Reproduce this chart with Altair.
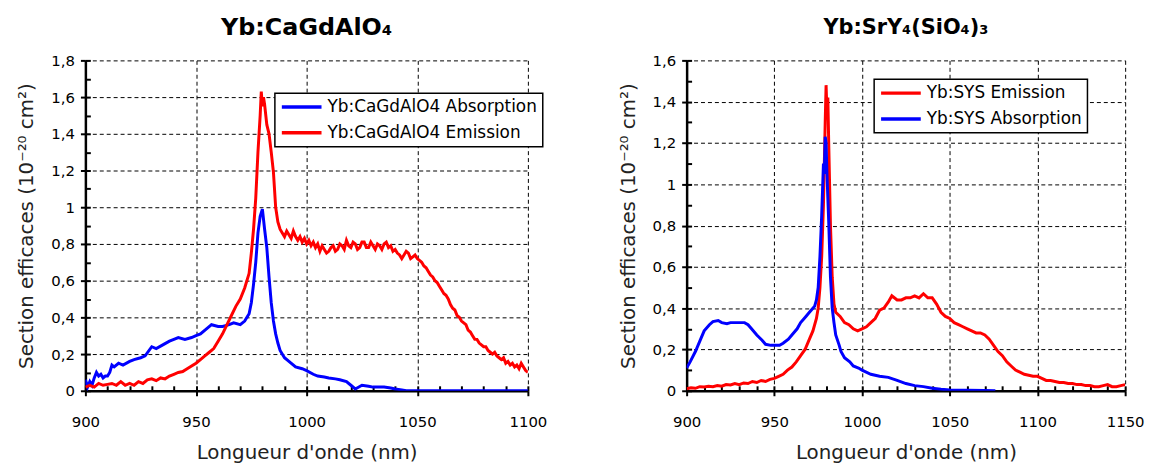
import altair as alt
import pandas as pd

FONT = "DejaVu Sans"

# ---------------- Left panel : Yb:CaGdAlO4 ----------------
cga_abs_wl = [900, 901, 902, 903, 904, 905, 906, 907, 908, 909,
              910, 911, 912, 913, 915, 917, 920, 922, 925, 927,
              930, 932, 935, 938, 940, 942, 945, 948, 950, 952,
              955, 957, 960, 962, 965, 967, 970, 972, 974, 975,
              976, 977, 978, 979, 980, 981, 982, 983, 984, 985,
              986, 987, 988, 990, 992, 995, 998, 1000, 1003, 1005,
              1008, 1010, 1013, 1015, 1018, 1020, 1022, 1025, 1028, 1030,
              1033, 1035, 1038, 1040, 1043, 1045, 1050, 1060, 1070, 1080,
              1090, 1100]
cga_abs_val = [0.06, 0.02, 0.05, 0.03, 0.07, 0.10, 0.08, 0.09, 0.07, 0.08,
               0.08, 0.10, 0.14, 0.13, 0.15, 0.14, 0.16, 0.17, 0.18, 0.19,
               0.24, 0.23, 0.25, 0.27, 0.28, 0.29, 0.28, 0.29, 0.30, 0.31,
               0.34, 0.36, 0.35, 0.35, 0.36, 0.37, 0.36, 0.38, 0.42, 0.48,
               0.58, 0.70, 0.86, 0.95, 0.99, 0.88, 0.78, 0.62, 0.48, 0.38,
               0.31, 0.26, 0.22, 0.18, 0.16, 0.13, 0.12, 0.11, 0.09, 0.08,
               0.075, 0.07, 0.065, 0.06, 0.05, 0.03, 0.01, 0.03, 0.025, 0.02,
               0.02, 0.02, 0.015, 0.01, 0.005, 0.0, 0.0, 0.0, 0.0, 0.0,
               0.0, 0.0]

cga_em_wl = ([900, 902, 904, 906, 908, 910, 912, 914, 916, 918,
              920, 922, 924, 926, 928, 930, 932, 934, 936, 938,
              940, 942, 944, 946, 948, 950, 952, 954, 956, 958,
              960, 962, 964, 966, 968, 970, 972, 974,
              975, 976, 977, 978, 979, 979.5, 980, 980.5, 981, 982,
              983, 984, 985, 986, 987, 988, 989]
             + list(range(990, 1101)))
cga_em_val = [0.02, 0.03, 0.02, 0.04, 0.03, 0.035, 0.04, 0.03, 0.05, 0.03,
              0.04, 0.03, 0.05, 0.04, 0.06, 0.065, 0.055, 0.07, 0.065, 0.08,
              0.09, 0.10, 0.105, 0.12, 0.135, 0.15, 0.17, 0.19, 0.21, 0.23,
              0.27, 0.31, 0.36, 0.41, 0.46, 0.50, 0.56, 0.64,
              0.75, 0.88, 1.05, 1.30, 1.50, 1.63, 1.55, 1.60, 1.56, 1.45,
              1.40, 1.30, 1.19, 1.00, 0.92, 0.88, 0.86,
              # 990 .. 1100 (1 nm)
              0.84, 0.87, 0.85, 0.83, 0.87, 0.84, 0.82, 0.84, 0.81, 0.83,
              0.80, 0.82, 0.79, 0.81, 0.78, 0.80, 0.76, 0.79, 0.77, 0.75,
              0.76, 0.78, 0.79, 0.76, 0.77, 0.80, 0.79, 0.77, 0.82, 0.79,
              0.78, 0.81, 0.80, 0.77, 0.78, 0.81, 0.81, 0.78, 0.78, 0.81,
              0.79, 0.77, 0.80, 0.79, 0.77, 0.80, 0.81, 0.78, 0.79, 0.76,
              0.77, 0.75, 0.74, 0.72, 0.74, 0.76, 0.75, 0.72, 0.73, 0.74,
              0.72, 0.71, 0.70, 0.68, 0.67, 0.65, 0.63, 0.62, 0.60, 0.59,
              0.57, 0.55, 0.53, 0.52, 0.50, 0.47, 0.45, 0.44, 0.41, 0.40,
              0.38, 0.37, 0.36, 0.33, 0.32, 0.30, 0.28, 0.28, 0.26, 0.25,
              0.24, 0.24, 0.22, 0.21, 0.20, 0.21, 0.19, 0.18, 0.17, 0.18,
              0.15, 0.16, 0.14, 0.15, 0.13, 0.14, 0.12, 0.15, 0.13, 0.11,
              0.10]

# ---------------- Right panel : Yb:SrY4(SiO4)3 ----------------
sys_abs_wl = [900, 902, 905, 908, 910, 913, 915, 918, 920, 923,
              925, 928, 930, 933, 935, 937, 940, 943, 945, 948,
              950, 953, 955, 958, 960, 963, 965, 968, 970, 972,
              973, 974, 975, 976, 977, 978, 978.5, 979, 979.5, 980,
              981, 982, 983, 984, 985, 987, 988, 990, 993, 995,
              998, 1000, 1005, 1010, 1015, 1020, 1025, 1030, 1035, 1040,
              1045, 1050, 1060, 1070, 1076]
sys_abs_val = [0.11, 0.14, 0.19, 0.25, 0.29, 0.32, 0.335, 0.34, 0.33, 0.325,
               0.33, 0.33, 0.33, 0.33, 0.32, 0.30, 0.27, 0.245, 0.225, 0.22,
               0.22, 0.22, 0.23, 0.25, 0.27, 0.30, 0.33, 0.36, 0.38, 0.40,
               0.41, 0.44, 0.50, 0.65, 0.85, 1.10, 1.05, 1.23, 1.20, 1.05,
               0.82, 0.55, 0.40, 0.33, 0.27, 0.22, 0.19, 0.16, 0.14, 0.12,
               0.11, 0.10, 0.08, 0.07, 0.065, 0.05, 0.035, 0.025, 0.02, 0.012,
               0.007, 0.004, 0.002, 0.001, 0.0]

sys_em_wl = [900, 902.5, 905, 907.5, 910, 912.5, 915, 917.5, 920, 922.5,
             925, 927.5, 930, 932.5, 935, 937.5, 940, 942.5, 945, 947.5,
             950, 952.5, 955, 957.5, 960, 962.5, 965, 967.5, 970, 972,
             974, 975, 976, 977, 978, 978.5, 979, 979.5, 980, 980.5,
             981, 982, 983, 984, 985, 987.5, 990, 992.5, 995, 997.5,
             1000, 1002.5, 1005, 1007.5, 1010, 1012.5, 1015, 1017, 1020, 1022.5,
             1025, 1027.5, 1030, 1032.5, 1035, 1037.5, 1040, 1042.5, 1045, 1047.5,
             1050, 1052.5, 1055, 1057.5, 1060, 1062.5, 1065, 1067.5, 1070, 1072.5,
             1075, 1077.5, 1080, 1082.5, 1085, 1087.5, 1090, 1092.5, 1095, 1097.5,
             1100, 1102.5, 1105, 1107.5, 1110, 1112.5, 1115, 1117.5, 1120, 1122.5,
             1125, 1127.5, 1130, 1132.5, 1135, 1137.5, 1140, 1142.5, 1145, 1147.5,
             1150]
sys_em_val = [0.01, 0.015, 0.012, 0.02, 0.018, 0.022, 0.02, 0.025, 0.022, 0.03,
              0.028, 0.035, 0.03, 0.038, 0.035, 0.045, 0.04, 0.05, 0.045, 0.055,
              0.06, 0.07, 0.08, 0.10, 0.115, 0.14, 0.17, 0.20, 0.25, 0.29,
              0.35, 0.40, 0.50, 0.65, 0.90, 1.10, 1.30, 1.48, 1.35, 1.42,
              1.20, 0.80, 0.55, 0.42, 0.38, 0.36, 0.33, 0.32, 0.30, 0.29,
              0.30, 0.31, 0.33, 0.35, 0.39, 0.40, 0.43, 0.46, 0.44, 0.44,
              0.45, 0.45, 0.46, 0.45, 0.47, 0.45, 0.45, 0.42, 0.38, 0.36,
              0.35, 0.33, 0.32, 0.31, 0.30, 0.29, 0.28, 0.28, 0.27, 0.25,
              0.22, 0.19, 0.17, 0.14, 0.12, 0.10, 0.09, 0.08, 0.075, 0.07,
              0.07, 0.06, 0.05, 0.05, 0.045, 0.04, 0.04, 0.035, 0.035, 0.03,
              0.03, 0.025, 0.025, 0.02, 0.02, 0.025, 0.03, 0.02, 0.02, 0.025,
              0.03]

# axis ticks
left_x_major = [900, 950, 1000, 1050, 1100]
left_x_minor = [900, 910, 920, 930, 940, 950, 960, 970, 980, 990, 1000,
                1010, 1020, 1030, 1040, 1050, 1060, 1070, 1080, 1090, 1100]
left_y_major = [0, 0.2, 0.4, 0.6, 0.8, 1.0, 1.2, 1.4, 1.6, 1.8]
left_y_minor = [0, 0.1, 0.2, 0.3, 0.4, 0.5, 0.6, 0.7, 0.8, 0.9, 1.0,
                1.1, 1.2, 1.3, 1.4, 1.5, 1.6, 1.7, 1.8]
right_x_major = [900, 950, 1000, 1050, 1100, 1150]
right_x_minor = [900, 910, 920, 930, 940, 950, 960, 970, 980, 990, 1000,
                 1010, 1020, 1030, 1040, 1050, 1060, 1070, 1080, 1090, 1100,
                 1110, 1120, 1130, 1140, 1150]
right_y_major = [0, 0.2, 0.4, 0.6, 0.8, 1.0, 1.2, 1.4, 1.6]
right_y_minor = [0, 0.1, 0.2, 0.3, 0.4, 0.5, 0.6, 0.7, 0.8, 0.9, 1.0,
                 1.1, 1.2, 1.3, 1.4, 1.5, 1.6]

X_TITLE = "Longueur d'onde (nm)"
Y_TITLE = "Section efficaces (10⁻²⁰ cm²)"
LABEL_EXPR = "replace(format(datum.value, '~g'), '.', ',')"


def long_df(series):
    rows = []
    for name, wl, val in series:
        for i, (w, v) in enumerate(zip(wl, val)):
            rows.append({"serie": name, "wl": w, "val": v, "ord": i})
    return pd.DataFrame(rows)


def panel(df, title, tsize, toffset, W, H, xdom, xmaj, xmin, ydom, ymaj, ymin,
          order, colors, lx, ly):
    xs = alt.Scale(domain=xdom, nice=False, zero=False)
    ys = alt.Scale(domain=ydom, nice=False, zero=False)
    main = alt.Chart(df).mark_line(strokeWidth=3, clip=True).encode(
        x=alt.X("wl:Q", scale=xs, axis=alt.Axis(
            values=xmaj, format="d", labelFlush=False, title=X_TITLE,
            grid=True, gridDash=[4, 3],
            gridColor="black", gridWidth=1, gridOpacity=1,
            tickSize=5, labelPadding=19, titlePadding=13)),
        y=alt.Y("val:Q", scale=ys, axis=alt.Axis(
            values=ymaj, labelExpr=LABEL_EXPR, title=Y_TITLE, grid=True,
            gridDash=[4, 3], gridColor="black", gridWidth=1, gridOpacity=1,
            tickSize=5, labelPadding=6, titlePadding=14)),
        color=alt.Color("serie:N", scale=alt.Scale(domain=order, range=colors),
                        legend=alt.Legend(orient="none", legendX=lx, legendY=ly,
                                          title=None)),
        order="ord:Q",
    )
    minor = alt.Chart(df).mark_point(opacity=0).encode(
        x=alt.X("wl:Q", scale=xs, axis=alt.Axis(
            orient="top", offset=-H, values=xmin, labels=False, domain=False,
            grid=False, tickSize=5, title=None)),
        y=alt.Y("val:Q", scale=ys, axis=alt.Axis(
            orient="right", offset=-W, values=ymin, labels=False, domain=False,
            grid=False, tickSize=5, title=None)),
    )
    return alt.layer(minor, main).resolve_scale(
        x="independent", y="independent"
    ).properties(
        width=W, height=H,
        title=alt.TitleParams(title, frame="group", font=FONT, fontSize=tsize,
                              fontWeight="bold", color="black", offset=toffset),
    )


left_df = long_df([
    ("Yb:CaGdAlO4 Absorption", cga_abs_wl, cga_abs_val),
    ("Yb:CaGdAlO4 Emission", cga_em_wl, cga_em_val),
])
right_df = long_df([
    ("Yb:SYS Emission", sys_em_wl, sys_em_val),
    ("Yb:SYS Absorption", sys_abs_wl, sys_abs_val),
])

left = panel(left_df, "Yb:CaGdAlO₄", 24, 14, 446, 333, [900, 1100], left_x_major,
             left_x_minor, [0, 1.8], left_y_major, left_y_minor,
             ["Yb:CaGdAlO4 Absorption", "Yb:CaGdAlO4 Emission"],
             ["#0000ff", "#ff0000"], 191, 33)
right = panel(right_df, "Yb:SrY₄(SiO₄)₃", 21, 16, 442, 333, [900, 1150], right_x_major,
              right_x_minor, [0, 1.6], right_y_major, right_y_minor,
              ["Yb:SYS Emission", "Yb:SYS Absorption"],
              ["#ff0000", "#0000ff"], 189, 19)

chart = alt.hconcat(left, right, spacing=71).resolve_scale(
    color="independent"
).properties(
    padding={"left": 9, "top": 6, "right": 0, "bottom": 0},
    background="white",
).configure_view(stroke=None).configure_axis(
    domainColor="black", domainWidth=2.5, tickColor="black", tickWidth=2,
    labelFont=FONT, labelFontSize=15, labelColor="black",
    titleFont=FONT, titleFontSize=20, titleFontWeight="normal", titleColor="#222222",
).configure_legend(
    strokeColor="black", strokeWidth=1.5, fillColor="white", padding=5,
    labelFont=FONT, labelFontSize=17, labelColor="black", labelLimit=400,
    symbolType="stroke", symbolSize=1600, symbolStrokeWidth=3.5,
    clipHeight=18, rowPadding=8, labelOffset=4,
)

chart.save("out.html", embed_options={"renderer": "svg", "actions": False})
